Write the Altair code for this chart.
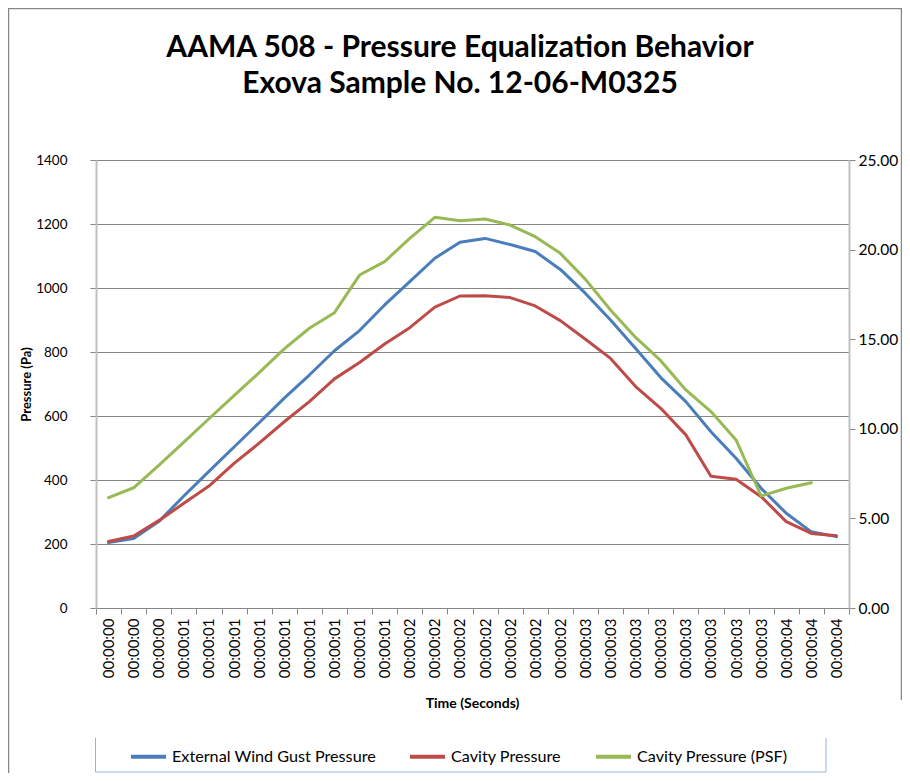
import altair as alt
import pandas as pd

time_labels = [
    "00:00:00", "00:00:00", "00:00:00",
    "00:00:01", "00:00:01", "00:00:01", "00:00:01", "00:00:01",
    "00:00:01", "00:00:01", "00:00:01", "00:00:01",
    "00:00:02", "00:00:02", "00:00:02", "00:00:02", "00:00:02",
    "00:00:02", "00:00:02",
    "00:00:03", "00:00:03", "00:00:03", "00:00:03", "00:00:03",
    "00:00:03", "00:00:03", "00:00:03",
    "00:00:04", "00:00:04", "00:00:04",
]

external_pa = [205, 217, 270, 350, 427, 503, 579, 656, 728, 804, 867, 947, 1020, 1093,
               1143, 1155, 1136, 1114, 1058, 983, 900, 811, 720, 645, 551, 468, 374,
               296, 238, 223]
cavity_pa = [208, 225, 273, 327, 381, 452, 515, 582, 645, 716, 767, 825, 876, 940,
             975, 976, 970, 944, 898, 840, 780, 692, 624, 541, 412, 402, 348, 270,
             233, 226]
cavity_psf = [6.16, 6.71, 7.96, 9.26, 10.56, 11.85, 13.13, 14.46, 15.61, 16.48, 18.58,
              19.33, 20.63, 21.80, 21.61, 21.71, 21.37, 20.72, 19.79, 18.34, 16.63,
              15.10, 13.80, 12.17, 10.96, 9.38, 6.25, 6.68, 6.99]

series_names = ["External Wind Gust Pressure", "Cavity Pressure", "Cavity Pressure (PSF)"]
series_colors = ["#4A7EBB", "#BE4B48", "#98B954"]
left_ticks = [0, 200, 400, 600, 800, 1000, 1200, 1400]
right_ticks = [0, 5, 10, 15, 20, 25]
title_lines = ["AAMA 508 - Pressure Equalization Behavior", "Exova Sample No. 12-06-M0325"]

rows = []
for name, vals in zip(series_names, [external_pa, cavity_pa, cavity_psf]):
    for i, v in enumerate(vals):
        rows.append({"idx": i, "series": name, "value": v})
df = pd.DataFrame(rows)

label_js = "[" + ",".join("'%s'" % t for t in time_labels) + "][datum.value]"

FONT = "Lato"

x_enc = alt.X(
    "idx:O",
    scale=alt.Scale(type="band", paddingInner=0, paddingOuter=0),
    axis=alt.Axis(
        labelExpr=label_js, labelAngle=270, labelOverlap=False,
        tickBand="extent", tickSize=6, tickColor="#868686", domainColor="#868686",
        domainWidth=1, labelFont=FONT, labelFontSize=15, labelColor="#000000",
        labelPadding=4, grid=False,
        title="Time (Seconds)", titleFont=FONT, titleFontSize=14, titleFontWeight="bold",
        titleColor="#000000", titleX=376, titleY=95, titleBaseline="middle",
    ),
)

color_enc = alt.Color(
    "series:N",
    scale=alt.Scale(domain=series_names, range=series_colors),
    legend=alt.Legend(
        orient="none", legendX=33, legendY=577, direction="horizontal", title=None,
        symbolType="stroke", symbolStrokeWidth=4, symbolSize=1225,
        labelFont=FONT, labelFontSize=16.2, labelColor="#000000", labelOffset=4,
        columnPadding=26, labelLimit=400,
    ),
)

base = alt.Chart(df)

left = base.transform_filter(
    alt.FieldOneOfPredicate(field="series", oneOf=series_names[:2])
).mark_line(strokeWidth=3, strokeJoin="round", strokeCap="round").encode(
    x=x_enc,
    y=alt.Y(
        "value:Q",
        scale=alt.Scale(domain=[0, 1400], nice=False, zero=True),
        axis=alt.Axis(
            values=left_ticks, format="d", grid=True, gridColor="#868686", gridWidth=1,
            domainColor="#BFBFBF", domainWidth=2, tickColor="#868686", tickSize=6,
            labelFont=FONT, labelFontSize=13.5, labelColor="#000000", labelPadding=23,
            title="Pressure (Pa)", titleFont=FONT, titleFontSize=13,
            titleFontWeight="bold", titleColor="#000000", titleX=-70, titleY=224,
            titleBaseline="middle",
        ),
    ),
    color=color_enc,
    order="idx:O",
)

right = base.transform_filter(
    alt.datum.series == series_names[2]
).mark_line(strokeWidth=3, strokeJoin="round", strokeCap="round").encode(
    x=x_enc,
    y=alt.Y(
        "value:Q",
        scale=alt.Scale(domain=[0, 25], nice=False, zero=True),
        axis=alt.Axis(
            orient="right", values=right_ticks, format=".2f", grid=False,
            domainColor="#BFBFBF", domainWidth=2, tickColor="#868686", tickSize=6,
            labelFont=FONT, labelFontSize=15.5, labelColor="#000000", labelPadding=3,
            title=None,
        ),
    ),
    color=color_enc,
    order="idx:O",
)

deco_df = pd.DataFrame({"k": [0]})
title1 = alt.Chart(deco_df).mark_text(
    font=FONT, fontSize=30, fontWeight="bold", color="#000000", align="center",
    baseline="alphabetic",
).encode(x=alt.value(364), y=alt.value(-103), text=alt.value(title_lines[0]))
title2 = alt.Chart(deco_df).mark_text(
    font=FONT, fontSize=30, fontWeight="bold", color="#000000", align="center",
    baseline="alphabetic",
).encode(x=alt.value(364), y=alt.value(-67), text=alt.value(title_lines[1]))

frame_left = alt.Chart(deco_df).mark_rule(color="#868686", strokeWidth=1.5).encode(
    x=alt.value(-87.5), y=alt.value(-152), y2=alt.value(613))
frame_top = alt.Chart(deco_df).mark_rule(color="#868686", strokeWidth=1.5).encode(
    x=alt.value(-88), x2=alt.value(806), y=alt.value(-151.5))
frame_right = alt.Chart(deco_df).mark_rule(color="#868686", strokeWidth=1.5).encode(
    x=alt.value(805.5), y=alt.value(-152), y2=alt.value(540))
box_left = alt.Chart(deco_df).mark_rule(color="#95B3D7", strokeWidth=1).encode(
    x=alt.value(-0.5), y=alt.value(578), y2=alt.value(612))
box_right = alt.Chart(deco_df).mark_rule(color="#95B3D7", strokeWidth=1).encode(
    x=alt.value(730), y=alt.value(578), y2=alt.value(612))
box_bottom = alt.Chart(deco_df).mark_rule(color="#95B3D7", strokeWidth=1.2).encode(
    x=alt.value(-0.5), x2=alt.value(730), y=alt.value(612))

chart = alt.layer(
    left, right, title1, title2, frame_left, frame_top, frame_right,
    box_left, box_right, box_bottom
).resolve_scale(y="independent").properties(
    width=753,
    height=448,
    padding={"left": 88, "top": 152, "right": 53, "bottom": 165},
    autosize=alt.AutoSizeParams(type="none"),
).configure_view(stroke=None).configure(background="white")

chart.save("out.html", embed_options={"renderer": "svg", "actions": False})
